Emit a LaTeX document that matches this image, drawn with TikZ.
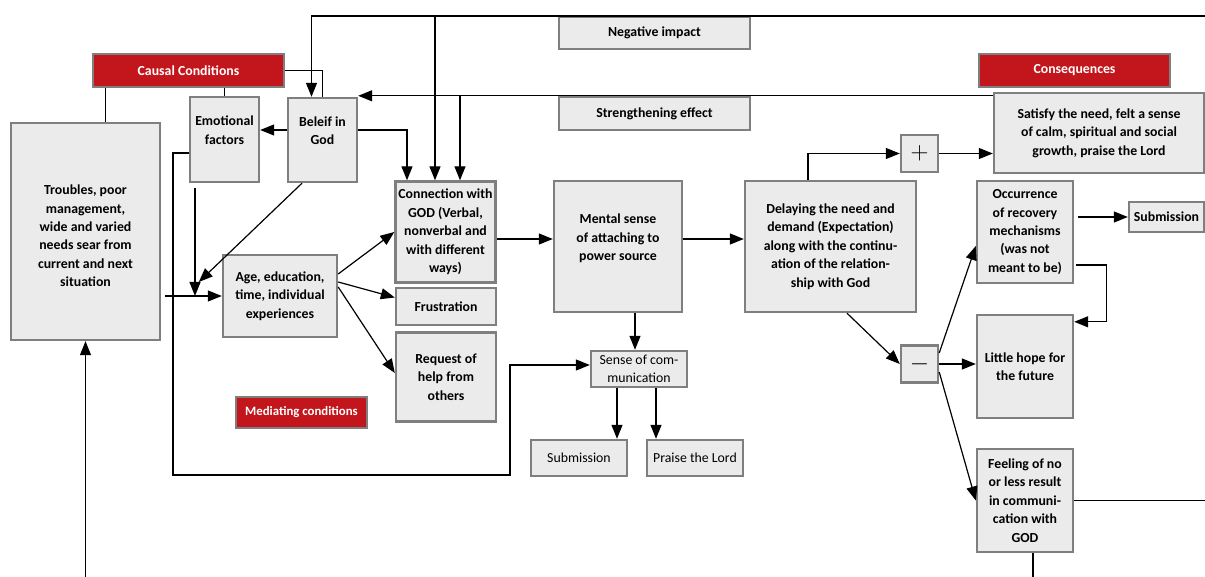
\documentclass[tikz,border=0pt]{standalone}
\usepackage{fontspec}
\setmainfont{Carlito}
\usetikzlibrary{arrows.meta}
\definecolor{boxfill}{HTML}{EBEBEB}
\definecolor{boxline}{HTML}{7F7F7F}
\definecolor{headred}{HTML}{C3161C}
\tikzset{
  box/.style 2 args={draw=boxline, line width=2.4pt, fill=boxfill, align=center,
    inner sep=1pt, minimum width=#1pt, minimum height=#2pt,
    font=\fontsize{13.8}{18.4}\selectfont\bfseries},
  plainbox/.style 2 args={box={#1}{#2}, font=\fontsize{13.8}{18.4}\selectfont},
  signbox/.style={box={37}{37}, font=\fontsize{24}{24}\selectfont},
  head/.style 2 args={box={#1}{#2}, fill=headred, text=white},
  arr/.style={-{Triangle[length=14pt,width=11pt]}, line width=1.2pt},
  link/.style={line width=1.2pt},
}
\begin{document}
\begin{tikzpicture}[x=1pt,y=-1pt]
\useasboundingbox (0,0) rectangle (1205,577);
\coordinate (topR) at (1205,16);
\node[head={191}{33}] (causal) at (188.5,70.5) {Causal Conditions};
\node[head={191}{33}] (conseq) at (1074.5,70.5) {Consequences};
\node[head={131}{31}, font=\fontsize{12.8}{15}\selectfont\bfseries] (mediating) at (301.5,412.5) {Mediating conditions};
\node[box={191}{32}] (negimp) at (654.5,33) {Negative impact};
\node[box={191}{33}] (streng) at (654.5,113.5) {Strengthening effect};
\node[box={149}{217}] (trouble) at (85.5,231.5) {\mbox{}\\Troubles, poor\\management,\\wide and varied\\needs sear from\\current and next\\situation};
\node[box={69}{85}] (emot) at (224.5,139.5) {Emotional\\factors\\\mbox{}};
\node[box={69}{84}] (belief) at (322.5,140) {Beleif in\\God\\\mbox{}};
\node[box={114}{82}] (age) at (280,296) {Age, education,\\time, individual\\experiences};
\node[box={100}{101}] (conn) at (445.5,232) {Connection with\\GOD (Verbal,\\nonverbal and\\with different\\ways)};
\node[box={100}{37}] (frust) at (446,306.5) {Frustration};
\node[box={100}{89}] (request) at (446,377) {Request of\\help from\\others};
\node[box={128}{131}] (mental) at (618,246.5) {Mental sense\\of attaching to\\power source\\\mbox{}};
\node[plainbox={96}{36}] (sensecom) at (639,369) {Sense of com-\\munication};
\node[plainbox={96}{36}] (submis1) at (579,458) {Submission};
\node[plainbox={96}{36}] (praise) at (695,458) {Praise the Lord};
\node[box={171}{131}] (delay) at (830.5,246.5) {Delaying the need and\\demand (Expectation)\\along with the continu-\\ation of the relation-\\ship with God};
\node[signbox] (plus) at (919.5,153.5) {$+$};
\node[box={210}{80}] (satisfy) at (1099,133) {Satisfy the need, felt a sense\\of calm, spiritual and social\\growth, praise the Lord};
\node[signbox] (minus) at (919.5,364) {$-$};
\node[box={96}{102}] (occur) at (1025,232) {Occurrence\\of recovery\\mechanisms\\(was not\\meant to be)};
\node[box={75}{30}] (submis2) at (1166.5,217) {Submission};
\node[box={96}{103}] (little) at (1025,366.5) {Little hope for\\the future};
\node[box={96}{103}] (feeling) at (1025,500.5) {Feeling of no\\or less result\\in communi-\\cation with\\GOD};
% causal side
\draw[link] ([xshift=14pt]causal.south west) coordinate (c1) -- (c1 |- trouble.north);
\draw[link] (causal.south -| emot.north) -- (emot.north);
\draw[link] (causal.east) -| (belief.north);
\draw[arr] (topR) -| ([xshift=-11pt]belief.north);
\draw[arr] ([xshift=-10.5pt]conn.north |- topR) -- ([xshift=-10.5pt]conn.north);
\draw[arr] ([yshift=-4pt]satisfy.north west) -- ([yshift=-4pt]satisfy.north west -| belief.east);
\draw[arr] ([xshift=14.5pt]conn.north |- streng.north) -- ([xshift=14.5pt]conn.north);
\draw[arr] ([yshift=10pt]belief.east) -| ([xshift=-38.5pt]conn.north);
\draw[arr] ([yshift=10pt]belief.west) -- ([yshift=10pt]belief.west -| emot.east);
\coordinate (loopA) at (173,475);
\coordinate (loopB) at (510,475);
\draw[arr] ([yshift=-13.5pt]emot.west) -| (loopA) -- (loopB) |- ([yshift=4pt]sensecom.west);
\draw[arr] ([xshift=-29.5pt,yshift=-5pt]emot.south) -- ([xshift=-29.5pt]emot.south |- age.west);
\draw[arr] ([xshift=4pt]trouble.east |- age.west) -- (age.west);
\draw[arr] ([xshift=-20.5pt]belief.south) -- ([xshift=-23pt,yshift=14pt]age.west);
\draw[arr] ([yshift=-237pt]trouble.south) -- (trouble.south);
% mediating side
\draw[arr] ([yshift=22pt]age.east) -- (conn.west);
\draw[arr] ([yshift=14pt]age.east) -- ([yshift=9pt]frust.west);
\draw[arr] ([yshift=9pt]age.east) -- ([yshift=4pt]request.west);
\draw[arr] ([yshift=-7pt]conn.east) -- ([yshift=-7pt]conn.east -| mental.west);
\draw[arr] ([yshift=7.5pt]mental.east) -- ([yshift=7.5pt]mental.east -| delay.west);
\draw[arr] ([xshift=-4pt]sensecom.north |- mental.south) -- ([xshift=-4pt]sensecom.north);
\draw[arr] ([xshift=38pt]submis1.north |- sensecom.south) -- ([xshift=38pt]submis1.north);
\draw[arr] ([xshift=-39pt]praise.north |- sensecom.south) -- ([xshift=-39pt]praise.north);
% consequences
\draw[arr] ([xshift=-22.5pt]delay.north) |- (plus.west);
\draw[arr] (plus.east) -- (plus.east -| satisfy.west);
\draw[arr] ([xshift=16.5pt]delay.south) -- (minus.west);
\draw[arr] ([yshift=11pt]minus.east) -- ([yshift=-14pt]occur.west);
\draw[arr] (minus.east) -- (minus.east -| little.west);
\draw[arr] ([yshift=-8pt]minus.east) -- (feeling.west);
\draw[arr] ([xshift=4pt]occur.east |- submis2.west) -- (submis2.west);
\draw[arr] ([xshift=2pt,yshift=-33pt]occur.east) -- ++(30,0) |- ([yshift=-8pt]little.north east);
\draw[link] (feeling.east) -- (feeling.east -| topR);
\draw[link] ([xshift=8pt]feeling.south) -- ++(0,25);
\end{tikzpicture}
\end{document}
